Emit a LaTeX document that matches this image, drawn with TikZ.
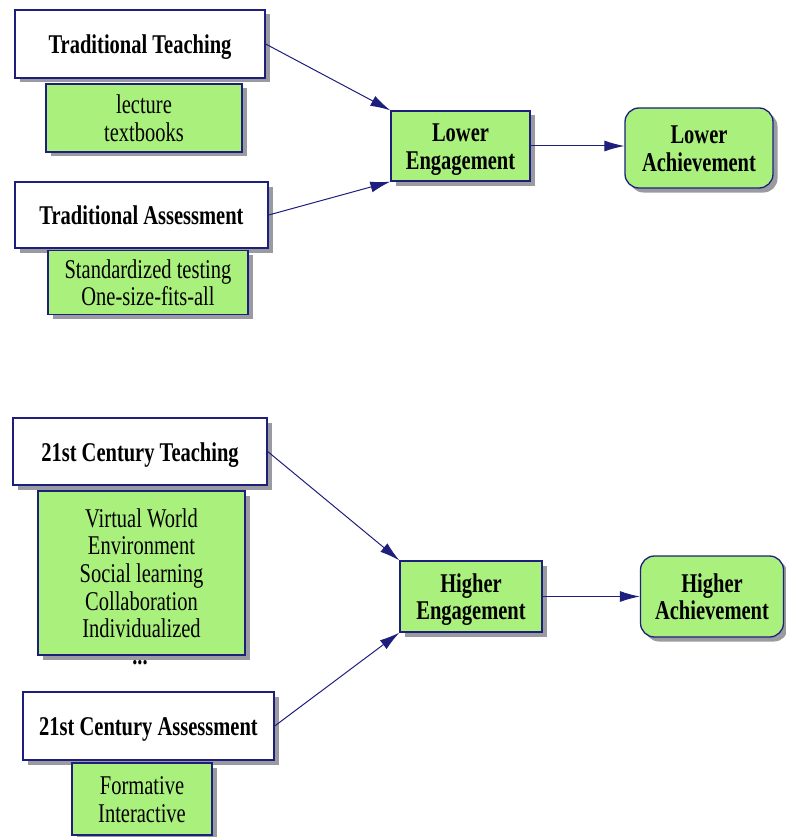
\documentclass[tikz,border=0pt]{standalone}
\usepackage{fontspec}
\usepackage{graphicx}
\setmainfont{Liberation Serif}
\usetikzlibrary{arrows.meta,shadows}
\definecolor{navy}{RGB}{30,30,125}
\definecolor{lgreen}{RGB}{170,240,125}
\definecolor{shade}{RGB}{120,120,130}
\newcommand{\vtxt}[1]{\raisebox{0pt}[\dimexpr\height+8pt\relax][\depth]{\scalebox{1}[1.32]{\begin{tabular}{@{}c@{}}#1\end{tabular}}}}
\tikzset{
  base/.style={draw=navy, line width=1.3pt, align=center, inner sep=0pt,
    font=\fontsize{20.5}{21}\selectfont,
    drop shadow={shadow xshift=4.5pt, shadow yshift=-4.5pt, fill=shade, opacity=0.75}},
  head/.style={base, fill=white, font=\fontsize{20.5}{21}\selectfont\bfseries},
  list/.style={base, fill=lgreen},
  outc/.style={base, fill=lgreen, font=\fontsize{20.5}{21}\selectfont\bfseries},
  ach/.style={outc, rounded corners=14pt},
  conn/.style={draw=navy, line width=1pt, -{Latex[length=20pt,width=11pt]}},
}
\begin{document}
\begin{tikzpicture}[x=1pt,y=-1pt]
\useasboundingbox (0,0) rectangle (786,837);
% top section
\node[head, minimum width=250pt, minimum height=68pt] (tt) at (140,44) {\vtxt{Traditional Teaching}};
\node[list, minimum width=196pt, minimum height=68pt] (lec) at (144,118) {\vtxt{lecture\\textbooks}};
\node[head, minimum width=253pt, minimum height=66pt] (ta) at (141.5,215) {\vtxt{Traditional Assessment}};
\node[list, minimum width=200pt, minimum height=61pt] (std) at (148,282.5) {\vtxt{Standardized testing\\One-size-fits-all}};
\node[outc, minimum width=139pt, minimum height=70pt] (le) at (460.5,146) {\vtxt{Lower\\Engagement}};
\node[ach, minimum width=148pt, minimum height=80pt] (la) at (699,148) {\vtxt{Lower\\Achievement}};
% bottom section
\node[head, minimum width=254pt, minimum height=67pt] (ct) at (140,451.5) {\vtxt{21st Century Teaching}};
\node[list, minimum width=207pt, minimum height=164pt] (vw) at (141.5,573) {\vtxt{Virtual World\\Environment\\Social learning\\Collaboration\\Individualized}};
\node[font=\fontsize{20.5}{21}\selectfont\bfseries, inner sep=0pt] (dots) at (140,663) {\scalebox{1}[1.32]{...}};
\node[head, minimum width=251pt, minimum height=68pt] (ca) at (148.5,726) {\vtxt{21st Century Assessment}};
\node[list, minimum width=140pt, minimum height=72pt] (fi) at (142,799) {\vtxt{Formative\\Interactive}};
\node[outc, minimum width=142pt, minimum height=71pt] (he) at (471,596.5) {\vtxt{Higher\\Engagement}};
\node[ach, minimum width=143pt, minimum height=81pt] (ha) at (712,596.5) {\vtxt{Higher\\Achievement}};
% connectors
\draw[conn] (tt.east) -- (le.north west);
\draw[conn] (ta.east) -- (le.south west);
\draw[conn] (le.east) -- (le.east -| la.west);
\draw[conn] (ct.east) -- (he.north west);
\draw[conn] (ca.east) -- (he.south west);
\draw[conn] (he.east) -- (ha.west);
\end{tikzpicture}
\end{document}
